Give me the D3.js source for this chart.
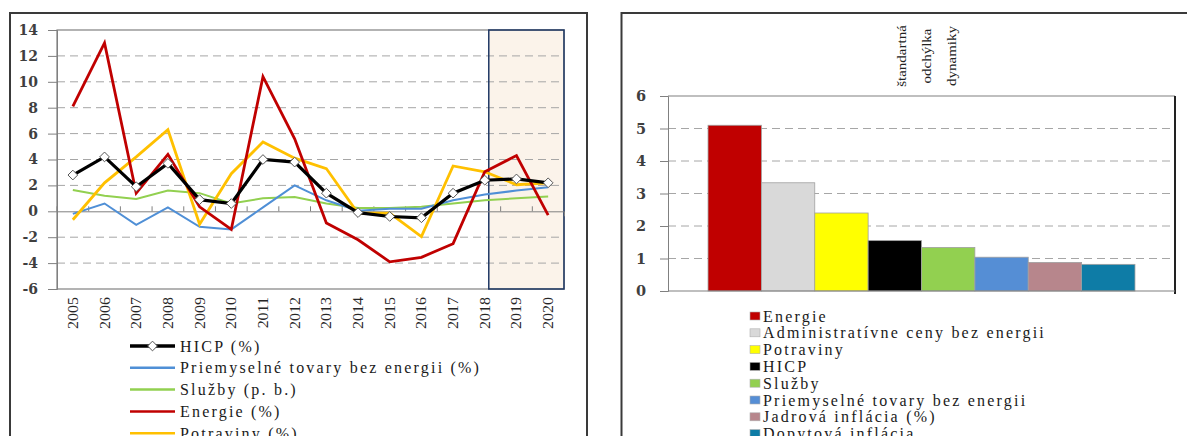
<!DOCTYPE html>
<html><head><meta charset="utf-8">
<script src="https://cdn.jsdelivr.net/npm/d3@7/dist/d3.min.js"></script>
<style>
html,body{margin:0;padding:0;background:#fff;overflow:hidden}
svg{display:block}
.serif{font-family:"Liberation Serif","DejaVu Serif",serif}
.num{font-family:"DejaVu Serif","Liberation Serif",serif}
</style></head>
<body>
<svg id="c" width="1187" height="436"></svg>
<script>
// ---------- data ----------
const years = ["2005","2006","2007","2008","2009","2010","2011","2012","2013","2014","2015","2016","2017","2018","2019","2020"];
const hicp      = [2.8, 4.2, 1.9, 3.7, 0.9, 0.6, 4.0, 3.8, 1.4, -0.1, -0.4, -0.5, 1.4, 2.4, 2.5, 2.2];
const priemysel = [-0.2, 0.6, -1.05, 0.3, -1.2, -1.4, 0.3, 2.0, 0.85, 0.05, 0.2, 0.2, 0.85, 1.3, 1.6, 1.85];
const sluzby    = [1.65, 1.2, 0.95, 1.6, 1.4, 0.6, 1.0, 1.1, 0.6, 0.25, 0.25, 0.35, 0.6, 0.85, 1.0, 1.15];
const energie   = [8.1, 13.0, 1.4, 4.4, 0.35, -1.4, 10.4, 5.6, -0.9, -2.2, -3.9, -3.55, -2.5, 3.05, 4.3, -0.3];
const potraviny = [-0.65, 2.2, 4.2, 6.3, -1.0, 2.9, 5.35, 4.1, 3.3, -0.15, -0.15, -1.95, 3.5, 3.05, 2.05, 2.2];
const lineNames  = ["HICP (%)", "Priemyselné tovary bez energii (%)", "Služby (p. b.)", "Energie (%)", "Potraviny (%)"];
const lineColors = ["#000000", "#4F8FD6", "#92D050", "#C00000", "#FFC000"];
const lineWidths = [3.2, 2, 2, 2.8, 2.8];
const yTicksL = [-6, -4, -2, 0, 2, 4, 6, 8, 10, 12, 14];
const forecastFrom = "2018";

const barNames  = ["Energie", "Administratívne ceny bez energii", "Potraviny", "HICP", "Služby", "Priemyselné tovary bez energii", "Jadrová inflácia (%)", "Dopytová inflácia"];
const barValues = [5.1, 3.33, 2.4, 1.55, 1.34, 1.04, 0.88, 0.82];
const barColors = ["#C00000", "#D9D9D9", "#FFFF00", "#000000", "#92D050", "#558ED5", "#B7868C", "#0E7CA6"];
const yTicksR = [0, 1, 2, 3, 4, 5, 6];
const barTitle = ["štandartná", "odchýlka", "dynamiky"];

const svg = d3.select("#c");
const fmt = d => String(d);

// ---------- panel frames ----------
svg.append("rect").attr("x",10).attr("y",13).attr("width",577).attr("height",440)
  .attr("fill","none").attr("stroke","#3a3a3a").attr("stroke-width",2);
svg.append("rect").attr("x",621.5).attr("y",13).attr("width",600).attr("height",440)
  .attr("fill","none").attr("stroke","#3a3a3a").attr("stroke-width",2);

// ---------- left line chart ----------
const L = {x0:57, x1:564, y0:30, y1:289};
const x = d3.scaleBand().domain(years).range([L.x0, L.x1]);
const y = d3.scaleLinear().domain([-6, 14]).range([L.y1, L.y0]);
const cx = d => x(d) + x.bandwidth()/2;

const sx = cx(forecastFrom) + 4;
svg.append("rect").attr("x", sx).attr("y", L.y0).attr("width", L.x1 - sx).attr("height", L.y1 - L.y0)
  .attr("fill", "#FBF3EA");

svg.append("g").selectAll("line").data(yTicksL.filter(v => v !== 0 && v !== -6 && v !== 14)).join("line")
  .attr("x1", L.x0).attr("x2", L.x1).attr("y1", d => y(d)).attr("y2", d => y(d))
  .attr("stroke", "#a6a6a6").attr("stroke-width", 1).attr("stroke-dasharray", "8,5");

svg.append("rect").attr("x", L.x0).attr("y", L.y0).attr("width", L.x1 - L.x0).attr("height", L.y1 - L.y0)
  .attr("fill", "none").attr("stroke", "#808080").attr("stroke-width", 1.2);
svg.append("rect").attr("x", sx).attr("y", L.y0).attr("width", L.x1 - sx).attr("height", L.y1 - L.y0)
  .attr("fill", "none").attr("stroke", "#1F3864").attr("stroke-width", 1.5);

const yAxisL = svg.append("g").attr("transform", `translate(${L.x0},0)`)
  .call(d3.axisLeft(y).tickValues(yTicksL).tickSize(9).tickPadding(10).tickFormat(fmt));
yAxisL.attr("font-family", null);
yAxisL.select(".domain").attr("stroke", "#808080");
yAxisL.selectAll(".tick line").attr("stroke", "#808080");
yAxisL.selectAll("text").attr("class", "num").attr("font-weight", "bold")
  .attr("font-size", 14).attr("fill", "#3f3f3f");

const xAxisL = svg.append("g").attr("transform", `translate(0,${y(0)})`)
  .call(d3.axisBottom(x).tickSize(5).tickFormat(""));
xAxisL.select(".domain").attr("stroke", "#808080");
xAxisL.selectAll(".tick").attr("transform", d => `translate(${x(d)},0)`);
xAxisL.selectAll(".tick line").attr("stroke", "#808080").attr("y1", -5).attr("y2", 0);

svg.append("g").selectAll("text").data(years).join("text")
  .attr("class", "serif")
  .attr("transform", d => `translate(${cx(d) + 5},${L.y1 + 8}) rotate(-90) scale(1,0.85)`)
  .attr("text-anchor", "end").attr("font-size", 16)
  .attr("fill", "#262626").text(d => d);

const series = [hicp, priemysel, sluzby, energie, potraviny];
const line = d3.line().x((d, i) => cx(years[i])).y(d => y(d));
const drawOrder = [2, 1, 4, 3, 0];
drawOrder.forEach(k => {
  svg.append("path").datum(series[k]).attr("d", line).attr("fill", "none")
    .attr("stroke", lineColors[k]).attr("stroke-width", lineWidths[k]).attr("stroke-linejoin", "miter");
});
const diamond = d3.symbol().type(d3.symbolDiamond2).size(60);
svg.append("g").selectAll("path").data(hicp).join("path")
  .attr("transform", (d, i) => `translate(${cx(years[i])},${y(d)})`)
  .attr("d", diamond).attr("fill", "#fff").attr("stroke", "#555").attr("stroke-width", 1);

const lg = svg.append("g");
lineNames.forEach((n, i) => {
  const yy = 346 + i * 21.8;
  lg.append("line").attr("x1", 130).attr("x2", 175).attr("y1", yy).attr("y2", yy)
    .attr("stroke", lineColors[i]).attr("stroke-width", i === 0 ? 3.5 : 2.5);
  if (i === 0) lg.append("path").attr("transform", `translate(152.5,${yy})`).attr("d", diamond)
    .attr("fill", "#fff").attr("stroke", "#555");
  lg.append("text").attr("class", "serif").attr("x", 180).attr("y", yy + 5.5).attr("font-size", 16)
    .attr("letter-spacing", "2.2px").attr("fill", "#1a1a1a").text(n);
});

// ---------- right bar chart ----------
const R = {x0:668, x1:1175, y0:96, y1:291};
const yr = d3.scaleLinear().domain([0, 6]).range([R.y1, R.y0]);
const xr = d3.scaleBand().domain(barNames).range([R.x0, R.x1]).paddingInner(0).paddingOuter(0.75);

svg.append("g").selectAll("line").data(yTicksR.filter(v => v > 0 && v < 6)).join("line")
  .attr("x1", R.x0).attr("x2", R.x1).attr("y1", d => yr(d)).attr("y2", d => yr(d))
  .attr("stroke", "#a6a6a6").attr("stroke-width", 1).attr("stroke-dasharray", "8,5");

svg.append("g").selectAll("rect").data(barNames).join("rect")
  .attr("x", d => xr(d)).attr("width", xr.bandwidth())
  .attr("y", (d, i) => yr(barValues[i])).attr("height", (d, i) => yr(0) - yr(barValues[i]))
  .attr("fill", (d, i) => barColors[i]).attr("stroke", "#a0a0a0").attr("stroke-width", 0.8);

svg.append("line").attr("x1", R.x0).attr("x2", R.x1).attr("y1", R.y0).attr("y2", R.y0)
  .attr("stroke", "#808080").attr("stroke-width", 1.2);
svg.append("line").attr("x1", R.x1).attr("x2", R.x1).attr("y1", R.y0).attr("y2", R.y1 + 3)
  .attr("stroke", "#222").attr("stroke-width", 2);
svg.append("line").attr("x1", R.x0).attr("x2", R.x1).attr("y1", R.y1).attr("y2", R.y1)
  .attr("stroke", "#808080").attr("stroke-width", 1.2);

const yAxisR = svg.append("g").attr("transform", `translate(${R.x0},0)`)
  .call(d3.axisLeft(yr).tickValues(yTicksR).tickSize(8).tickPadding(14).tickFormat(fmt));
yAxisR.attr("font-family", null);
yAxisR.select(".domain").attr("stroke", "#808080");
yAxisR.selectAll(".tick line").attr("stroke", "#808080");
yAxisR.selectAll("text").attr("class", "num").attr("font-weight", "bold")
  .attr("font-size", 14.5).attr("fill", "#3f3f3f");

barTitle.forEach((t, i) => {
  svg.append("text").attr("class", "serif")
    .attr("transform", `translate(${906 + i * 25},56) rotate(-90) scale(1,0.8)`)
    .attr("text-anchor", "middle").attr("font-size", 15)
    .attr("fill", "#222").text(t);
});

const rg = svg.append("g");
barNames.forEach((n, i) => {
  const yy = 317 + i * 16.8;
  rg.append("rect").attr("x", 750).attr("y", yy - 5).attr("width", 10).attr("height", 8)
    .attr("fill", barColors[i]).attr("stroke", "#b0b0b0").attr("stroke-width", 0.6);
  rg.append("text").attr("class", "serif").attr("x", 763).attr("y", yy + 4.5).attr("font-size", 16)
    .attr("letter-spacing", "2.2px").attr("fill", "#1a1a1a").text(n);
});
</script>
</body></html>
